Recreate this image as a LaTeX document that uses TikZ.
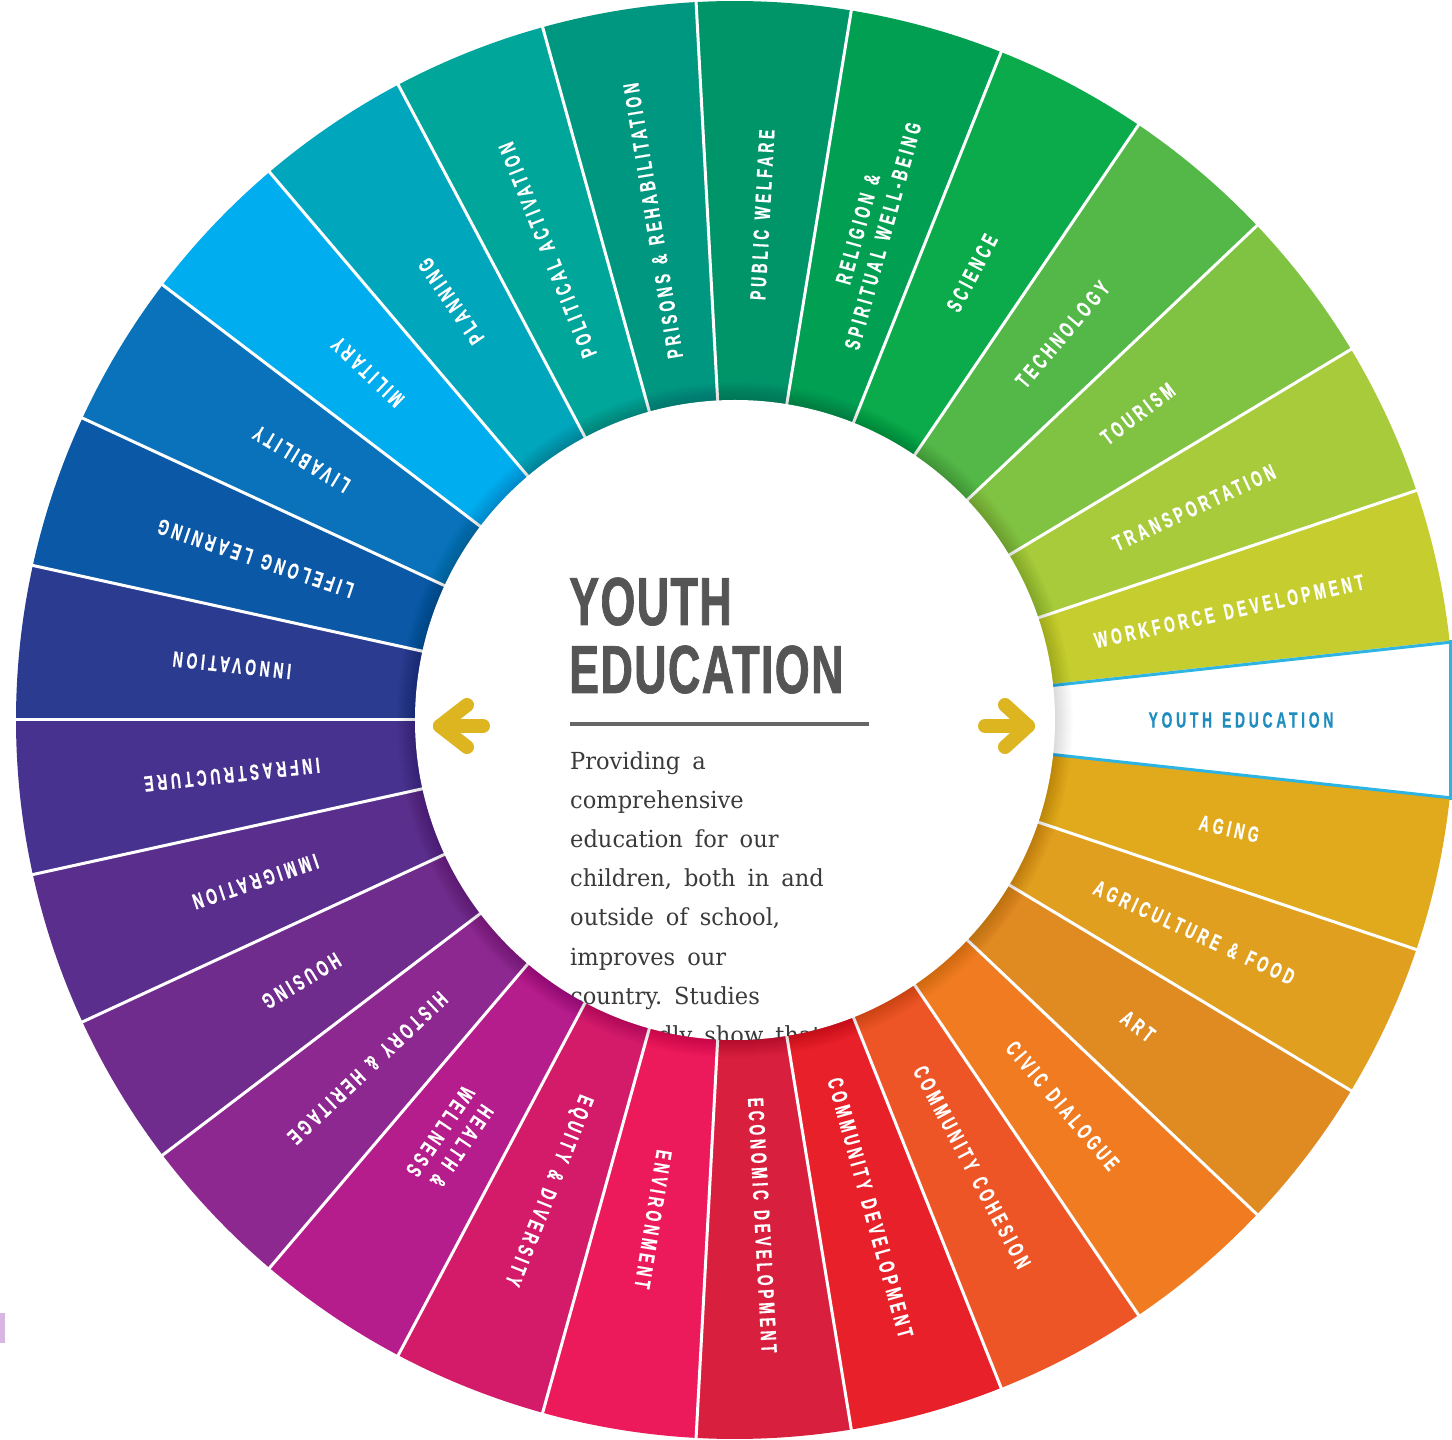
\documentclass[tikz,border=0pt]{standalone}
\usepackage{fontspec}
\newfontfamily\labfont[FakeStretch=0.63,LetterSpace=17,FakeBold=0.6]{Liberation Sans}
\newfontfamily\titlefont[FakeStretch=0.66,LetterSpace=2,FakeBold=1]{Liberation Sans}
\newfontfamily\bodyfont[FakeStretch=0.96]{DejaVu Serif}
\newcommand\labsetup{\labfont\bfseries\fontsize{22}{26}\selectfont\spaceskip 10pt\relax}
\newcommand\bodysetup{\bodyfont\fontsize{23.5}{39}\selectfont\frenchspacing\spaceskip 12pt plus 2pt\relax}
\definecolor{cAging}{HTML}{E0AA1C}
\definecolor{cAgri}{HTML}{E19F1F}
\definecolor{cArt}{HTML}{E08A22}
\definecolor{cCivic}{HTML}{F17B21}
\definecolor{cCohesion}{HTML}{EE5526}
\definecolor{cCommDev}{HTML}{E8202A}
\definecolor{cEcon}{HTML}{D91F3E}
\definecolor{cEnv}{HTML}{EC195B}
\definecolor{cEquity}{HTML}{D31B6A}
\definecolor{cHealth}{HTML}{B51C8C}
\definecolor{cHistory}{HTML}{8E2891}
\definecolor{cHousing}{HTML}{6F2C8D}
\definecolor{cImmig}{HTML}{5A2E8C}
\definecolor{cInfra}{HTML}{47338F}
\definecolor{cInnov}{HTML}{2A3B90}
\definecolor{cLifelong}{HTML}{0B58A7}
\definecolor{cLiv}{HTML}{0A72BB}
\definecolor{cMil}{HTML}{00ADEE}
\definecolor{cPlan}{HTML}{00A6BC}
\definecolor{cPolit}{HTML}{00A69A}
\definecolor{cPrison}{HTML}{009780}
\definecolor{cPublic}{HTML}{009469}
\definecolor{cReligion}{HTML}{009F52}
\definecolor{cScience}{HTML}{0BAA4A}
\definecolor{cTech}{HTML}{53B848}
\definecolor{cTourism}{HTML}{80C241}
\definecolor{cTransport}{HTML}{A7CB3A}
\definecolor{cWork}{HTML}{C5CE2E}
\definecolor{cyanLine}{HTML}{2DB4E3}
\definecolor{youthText}{HTML}{1F8DBF}
\definecolor{titleGray}{HTML}{555555}
\definecolor{ruleGray}{HTML}{666666}
\definecolor{bodyGray}{HTML}{3A3A3A}
\definecolor{arrowGold}{HTML}{DDB521}
\definecolor{markPurple}{HTML}{D9B5E3}
\tikzset{
  lab/.style={text=white, inner sep=0pt, align=center, font=\labsetup},
  sepline/.style={white, line width=3pt},
  cyanedge/.style={cyanLine, line width=3pt},
  titletext/.style={anchor=base west, inner sep=0pt, text=titleGray, font=\titlefont\bfseries\fontsize{68}{68}\selectfont},
  bodytext/.style={anchor=base west, inner sep=0pt, text=bodyGray, font=\bodysetup},
  arrowstroke/.style={arrowGold, line width=14pt, line cap=round, line join=round}
}
\begin{document}
\begin{tikzpicture}[x=1pt,y=1pt]
\useasboundingbox (-735,-720) rectangle (717,720);
\fill[white] (-735,-720) rectangle (717,720);
\pgfmathsetmacro\w{360/29}
% coloured wedges and labels
\foreach \i/\c/\t in {
  1/cAging/AGING,
  2/cAgri/AGRICULTURE \& FOOD,
  3/cArt/ART,
  4/cCivic/CIVIC DIALOGUE,
  5/cCohesion/COMMUNITY COHESION,
  6/cCommDev/COMMUNITY DEVELOPMENT,
  7/cEcon/ECONOMIC DEVELOPMENT,
  8/cEnv/ENVIRONMENT,
  9/cEquity/EQUITY \& DIVERSITY,
  10/cHealth/{HEALTH \&\\WELLNESS},
  11/cHistory/HISTORY \& HERITAGE,
  12/cHousing/HOUSING,
  13/cImmig/IMMIGRATION,
  14/cInfra/INFRASTRUCTURE,
  15/cInnov/INNOVATION,
  16/cLifelong/LIFELONG LEARNING,
  17/cLiv/LIVABILITY,
  18/cMil/MILITARY,
  19/cPlan/PLANNING,
  20/cPolit/POLITICAL ACTIVATION,
  21/cPrison/PRISONS \& REHABILITATION,
  22/cPublic/PUBLIC WELFARE,
  23/cReligion/{RELIGION \&\\SPIRITUAL WELL-BEING},
  24/cScience/SCIENCE,
  25/cTech/TECHNOLOGY,
  26/cTourism/TOURISM,
  27/cTransport/TRANSPORTATION,
  28/cWork/WORKFORCE DEVELOPMENT}{
  \pgfmathsetmacro\a{-\i*\w}
  \pgfmathsetmacro\s{\a-\w/2}
  \pgfmathsetmacro\e{\a+\w/2}
  \fill[\c] (\s:300) -- (\s:719) arc[start angle=\s, end angle=\e, radius=719] -- (\e:300) arc[start angle=\e, end angle=\s, radius=300] -- cycle;
  \node[lab, rotate=\a] (lab\i) at (\a:506) {\t};
}
% youth education wedge
\pgfmathsetmacro\hw{\w/2}
\fill[white] (-\hw:300) -- (-\hw:722) arc[start angle=-\hw, end angle=\hw, radius=722] -- (\hw:300) -- cycle;
% separators
\foreach \i in {1,...,28}{
  \pgfmathsetmacro\b{-\i*\w-\w/2}
  \draw[sepline] (\b:300) -- (\b:730);
}
\draw[cyanedge] (\hw:300) -- (\hw:730);
\draw[cyanedge] (-\hw:300) -- (-\hw:730);
\draw[cyanLine, line width=3pt] (715.5,-80) -- (715.5,80);
\node[lab, text=youthText] (lab0) at (0:506) {YOUTH EDUCATION};
% soft shadow around centre disc
\foreach \k in {1,...,18}{
  \fill[black, opacity=0.009] (0,0) circle[radius=320+\k];
}
\fill[white] (0,0) circle[radius=320];
% title
\node[titletext] (title1) at (-166,95) {YOUTH};
\node[titletext] (title2) at (-166,27) {EDUCATION};
\draw[ruleGray, line width=4pt] (-165,-4) -- (134,-4);
% body text clipped to disc
\begin{scope}
  \clip (0,0) circle[radius=320];
  \node[bodytext] (b1) at (-165,-50) {Providing a};
  \node[bodytext] (b2) at (-165,-89) {comprehensive};
  \node[bodytext] (b3) at (-165,-128) {education for our};
  \node[bodytext] (b4) at (-165,-167) {children, both in and};
  \node[bodytext] (b5) at (-165,-206) {outside of school,};
  \node[bodytext] (b6) at (-165,-245) {improves our};
  \node[bodytext] (b7) at (-165,-284) {country. Studies};
  \node[bodytext] (b8) at (-165,-323) {repeatedly show that};
\end{scope}
% arrows
\coordinate (la1) at (-252,-6);
\coordinate (la2) at (-295,-6);
\coordinate (la3) at (-268,15);
\coordinate (la4) at (-268,-27);
\draw[arrowstroke] (la1) -- (la2);
\draw[arrowstroke] (la3) -- (la2) -- (la4);
\coordinate (ra1) at (250,-6);
\coordinate (ra2) at (293,-6);
\coordinate (ra3) at (270,15);
\coordinate (ra4) at (270,-27);
\draw[arrowstroke] (ra1) -- (ra2);
\draw[arrowstroke] (ra3) -- (ra2) -- (ra4);
% small mark at left edge
\fill[markPurple] (-735,-593) rectangle (-730,-623);
\end{tikzpicture}
\end{document}
